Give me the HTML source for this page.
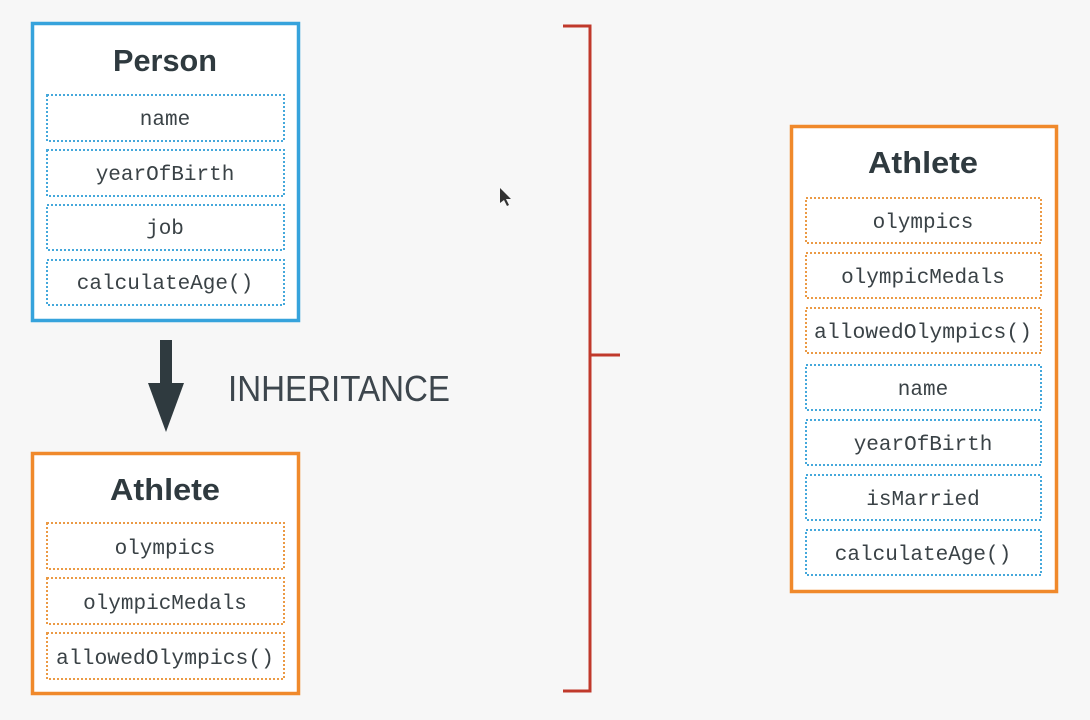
<!DOCTYPE html>
<html><head><meta charset="utf-8"><style>
html,body{margin:0;padding:0;background:#f7f7f7;}
svg{display:block}
.mono{font-family:"Liberation Mono",monospace;font-size:21px;fill:#3a4246;}
.title{font-family:"Liberation Sans",sans-serif;font-weight:bold;font-size:31px;fill:#2f3a3f;}
</style></head><body>
<svg width="1090" height="720" viewBox="0 0 1090 720">
<rect width="1090" height="720" fill="#f7f7f7"/>
<!-- Person -->
<rect x="32.5" y="23.5" width="266" height="297" fill="#fff" stroke="#36a3dc" stroke-width="3.5"/>
<text x="165" y="71" text-anchor="middle" class="title" textLength="104" lengthAdjust="spacingAndGlyphs">Person</text>
<g fill="#fff" stroke="#45a8db" stroke-width="2" stroke-dasharray="2 2">
<rect x="47" y="95" width="237" height="46"/>
<rect x="47" y="150" width="237" height="46"/>
<rect x="47" y="205" width="237" height="45"/>
<rect x="47" y="260" width="237" height="45"/>
</g>
<g class="mono" text-anchor="middle">
<text x="165" y="125">name</text>
<text x="165" y="180">yearOfBirth</text>
<text x="165" y="234">job</text>
<text x="165" y="289">calculateAge()</text>
</g>
<!-- Arrow -->
<rect x="160" y="340" width="12" height="45" fill="#2f3a3f"/>
<polygon points="148,383 184,383 166,432" fill="#2f3a3f"/>
<text x="228" y="401" textLength="222" lengthAdjust="spacingAndGlyphs" font-family="Liberation Sans,sans-serif" font-size="36" fill="#3d464d">INHERITANCE</text>
<!-- Athlete bottom -->
<rect x="32.5" y="453.5" width="266" height="240" fill="#fff" stroke="#f0892b" stroke-width="3.5"/>
<text x="165" y="500" text-anchor="middle" class="title" textLength="110" lengthAdjust="spacingAndGlyphs">Athlete</text>
<g fill="#fff" stroke="#eb9a45" stroke-width="2" stroke-dasharray="2 2">
<rect x="47" y="523" width="237" height="46"/>
<rect x="47" y="578" width="237" height="46"/>
<rect x="47" y="633" width="237" height="46"/>
</g>
<g class="mono" text-anchor="middle">
<text x="165" y="554">olympics</text>
<text x="165" y="609">olympicMedals</text>
<text x="165" y="664" textLength="218" lengthAdjust="spacingAndGlyphs">allowedOlympics()</text>
</g>
<!-- Bracket -->
<polyline points="563,26 590,26 590,691 563,691" fill="none" stroke="#c0392b" stroke-width="3"/>
<line x1="590" y1="355" x2="620" y2="355" stroke="#c0392b" stroke-width="3"/>
<!-- cursor -->
<polygon points="500,188 500,203 504,200 507,206 509,205 506,199 511,199" fill="#333"/>
<!-- Athlete right -->
<rect x="791.5" y="126.5" width="265" height="465" fill="#fff" stroke="#f0892b" stroke-width="3.5"/>
<text x="923" y="173" text-anchor="middle" class="title" textLength="110" lengthAdjust="spacingAndGlyphs">Athlete</text>
<g fill="#fff" stroke="#eb9a45" stroke-width="2" stroke-dasharray="2 2">
<rect x="806" y="198" width="235" height="45"/>
<rect x="806" y="253" width="235" height="45"/>
<rect x="806" y="308" width="235" height="45"/>
</g>
<g fill="#fff" stroke="#45a8db" stroke-width="2" stroke-dasharray="2 2">
<rect x="806" y="365" width="235" height="45"/>
<rect x="806" y="420" width="235" height="45"/>
<rect x="806" y="475" width="235" height="45"/>
<rect x="806" y="530" width="235" height="45"/>
</g>
<g class="mono" text-anchor="middle">
<text x="923" y="228">olympics</text>
<text x="923" y="283">olympicMedals</text>
<text x="923" y="338" textLength="218" lengthAdjust="spacingAndGlyphs">allowedOlympics()</text>
<text x="923" y="395">name</text>
<text x="923" y="450">yearOfBirth</text>
<text x="923" y="505">isMarried</text>
<text x="923" y="560">calculateAge()</text>
</g>
</svg>
</body></html>
